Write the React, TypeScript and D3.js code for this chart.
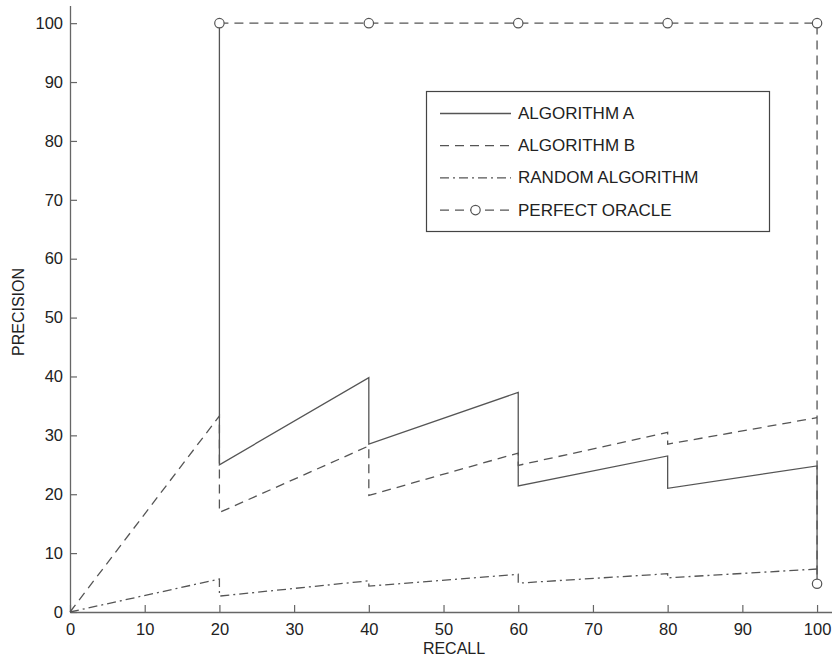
import React, { useEffect, useRef } from 'react';
import * as d3 from 'd3';

// recall (%) / precision (%)
const recallA = [20, 20, 40, 40, 60, 60, 80, 80, 100, 100];
const precisionA = [100, 25, 39.8, 28.5, 37.3, 21.4, 26.5, 21, 24.8, 4.8];

const recallB = [0, 20, 20, 40, 40, 60, 60, 80, 80, 100];
const precisionB = [0, 33.3, 16.9, 28.2, 19.8, 27, 24.9, 30.5, 28.5, 33];

const recallRandom = [0, 20, 20, 40, 40, 60, 60, 80, 80, 100];
const precisionRandom = [0, 5.6, 2.7, 5.3, 4.4, 6.4, 4.9, 6.5, 5.8, 7.3];

const recallOracle = [20, 40, 60, 80, 100, 100];
const precisionOracle = [100, 100, 100, 100, 100, 4.8];

const seriesNames = ['ALGORITHM A', 'ALGORITHM B', 'RANDOM ALGORITHM', 'PERFECT ORACLE'];
const xTicks = [0, 10, 20, 30, 40, 50, 60, 70, 80, 90, 100];
const yTicks = [0, 10, 20, 30, 40, 50, 60, 70, 80, 90, 100];

const W = 832;
const H = 657;
const FONT = '"Liberation Sans", Arial, Helvetica, sans-serif';
const LINE = '#555';
const TEXT = '#222';
const DASH = '9,6';
const DASHDOT = '9,4,2,4';

const App = () => {
    const ref = useRef<SVGSVGElement | null>(null);

    useEffect(() => {
        const svg = d3.select(ref.current);
        svg.selectAll('*').remove();

        const x = d3.scaleLinear().domain([0, 102]).range([70, 832]);
        const y = d3.scaleLinear().domain([0, 103]).range([612, 5.5]);

        // axes (MATLAB style, ticks pointing inward, no box)
        const xAxis = svg.append('g')
            .attr('transform', 'translate(0,612)')
            .call(d3.axisBottom(x).tickValues(xTicks).tickSizeInner(-7).tickSizeOuter(0).tickPadding(11));
        const yAxis = svg.append('g')
            .attr('transform', 'translate(70,0)')
            .call(d3.axisLeft(y).tickValues(yTicks).tickSizeInner(-7).tickSizeOuter(0).tickPadding(7));

        [xAxis, yAxis].forEach(a => {
            a.select('.domain').attr('stroke', '#666').attr('stroke-width', 1.3);
            a.selectAll('.tick line').attr('stroke', '#666').attr('stroke-width', 1.2);
            a.selectAll('.tick text')
                .attr('fill', TEXT)
                .style('font-family', FONT)
                .style('font-size', '16.5px');
        });

        svg.append('text')
            .attr('x', 454).attr('y', 654)
            .attr('text-anchor', 'middle')
            .attr('fill', TEXT)
            .style('font-family', FONT).style('font-size', '16px')
            .text('RECALL');

        svg.append('text')
            .attr('transform', 'translate(24,312) rotate(-90)')
            .attr('text-anchor', 'middle')
            .attr('fill', TEXT)
            .style('font-family', FONT).style('font-size', '16px')
            .text('PRECISION');

        const line = d3.line<[number, number]>()
            .x(d => x(d[0]))
            .y(d => y(d[1]));

        const zip = (rs: number[], ps: number[]) => rs.map((r, i) => [r, ps[i]] as [number, number]);

        const series = [
            { pts: zip(recallB, precisionB), dash: DASH },
            { pts: zip(recallRandom, precisionRandom), dash: DASHDOT },
            { pts: zip(recallOracle, precisionOracle), dash: DASH },
            { pts: zip(recallA, precisionA), dash: null },
        ];

        series.forEach(s => {
            svg.append('path')
                .attr('d', line(s.pts))
                .attr('fill', 'none')
                .attr('stroke', LINE)
                .attr('stroke-width', 1.3)
                .attr('stroke-dasharray', s.dash);
        });

        svg.selectAll('.oracle-dot')
            .data(zip(recallOracle, precisionOracle))
            .enter()
            .append('circle')
            .attr('class', 'oracle-dot')
            .attr('cx', d => x(d[0]))
            .attr('cy', d => y(d[1]))
            .attr('r', 4.7)
            .attr('fill', 'white')
            .attr('stroke', LINE)
            .attr('stroke-width', 1.2);

        // legend
        const lg = svg.append('g');
        lg.append('rect')
            .attr('x', 426.5).attr('y', 91.5)
            .attr('width', 343).attr('height', 140)
            .attr('fill', 'white')
            .attr('stroke', '#444')
            .attr('stroke-width', 1.2);

        const dashes = [null, DASH, DASHDOT, DASH];
        seriesNames.forEach((name, i) => {
            const cy = 113.5 + i * 32.2;
            lg.append('line')
                .attr('x1', 440).attr('x2', 511)
                .attr('y1', cy).attr('y2', cy)
                .attr('stroke', LINE)
                .attr('stroke-width', 1.3)
                .attr('stroke-dasharray', dashes[i]);
            if (i === 3) {
                lg.append('circle')
                    .attr('cx', 475.5).attr('cy', cy).attr('r', 4.7)
                    .attr('fill', 'white').attr('stroke', LINE).attr('stroke-width', 1.2);
            }
            lg.append('text')
                .attr('x', 518).attr('y', cy + 5.5)
                .attr('fill', TEXT)
                .style('font-family', FONT).style('font-size', '17px')
                .text(name);
        });
    }, []);

    return (
        <svg
            ref={ref}
            width={W}
            height={H}
            style={{ position: 'absolute', left: 0, top: 0, background: 'white' }}
        />
    );
};

export default App;
